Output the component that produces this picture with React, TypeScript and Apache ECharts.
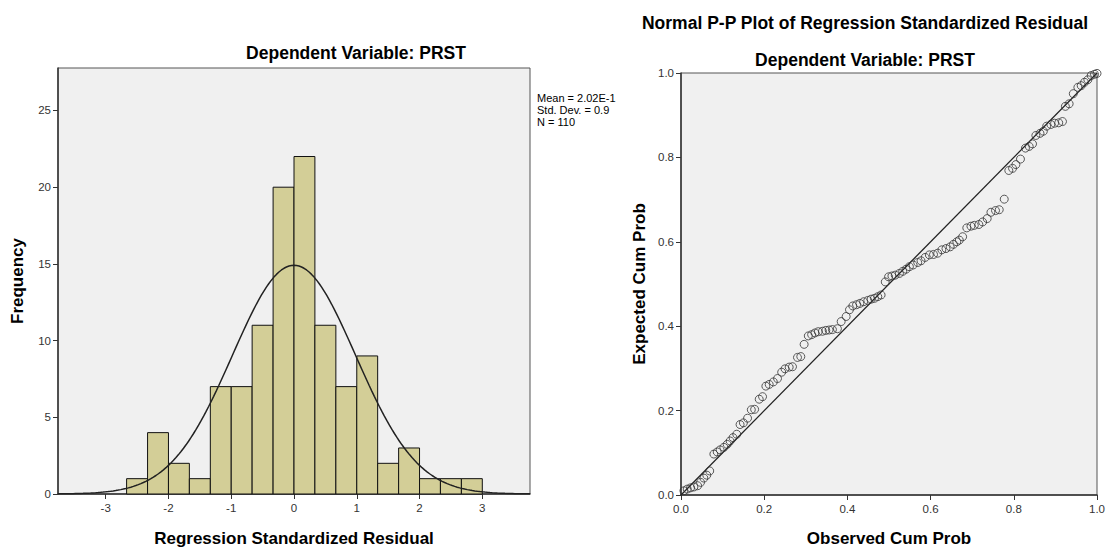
import React, { useEffect, useRef } from "react";
import * as echarts from "echarts";

// Histogram data
const binEdges = [-2.667, -2.333, -2, -1.667, -1.333, -1, -0.667, -0.333, 0, 0.333, 0.667, 1, 1.333, 1.667, 2, 2.333, 2.667, 3];
const binCounts = [1, 4, 2, 1, 7, 7, 11, 20, 22, 11, 7, 9, 2, 3, 1, 1, 1];
const histXTicks = [-3, -2, -1, 0, 1, 2, 3];
const histYTicks = [0, 5, 10, 15, 20, 25];

// Normal curve parameters (as shown in the chart's legend)
const MEAN = 2.02e-15;
const STD_DEV = 0.981;
const N = 110;
const BIN_WIDTH = 1 / 3;

const legendLines = ["Mean = 2.02E-1", "Std. Dev. = 0.9", "N = 110"];

// P-P plot points: [observed cum prob, expected cum prob]
const observedCumProb = [
  0.007, 0.015, 0.023, 0.031, 0.040, 0.047, 0.055, 0.062, 0.069, 0.079,
  0.087, 0.094, 0.103, 0.111, 0.118, 0.125, 0.134, 0.142, 0.150, 0.160,
  0.169, 0.177, 0.188, 0.196, 0.204, 0.212, 0.222, 0.232, 0.242, 0.250,
  0.260, 0.268, 0.280, 0.288, 0.296, 0.306, 0.314, 0.322, 0.330, 0.340,
  0.348, 0.356, 0.364, 0.376, 0.385, 0.397, 0.405, 0.413, 0.422, 0.430,
  0.439, 0.449, 0.457, 0.465, 0.473, 0.481, 0.491, 0.499, 0.507, 0.515,
  0.525, 0.533, 0.541, 0.549, 0.558, 0.569, 0.577, 0.587, 0.597, 0.607,
  0.617, 0.627, 0.637, 0.647, 0.655, 0.663, 0.669, 0.677, 0.687, 0.697,
  0.705, 0.716, 0.725, 0.736, 0.745, 0.756, 0.765, 0.777, 0.788, 0.797,
  0.805, 0.816, 0.828, 0.837, 0.845, 0.853, 0.863, 0.871, 0.879, 0.889,
  0.898, 0.908, 0.917, 0.924, 0.933, 0.943, 0.954, 0.962, 0.970, 0.978,
  0.986, 0.994, 1.0,
];
const expectedCumProb = [
  0.010, 0.014, 0.017, 0.019, 0.022, 0.030, 0.040, 0.047, 0.057, 0.097,
  0.102, 0.107, 0.113, 0.120, 0.128, 0.136, 0.144, 0.167, 0.171, 0.182,
  0.202, 0.203, 0.227, 0.233, 0.258, 0.262, 0.268, 0.276, 0.291, 0.299,
  0.303, 0.304, 0.326, 0.328, 0.357, 0.377, 0.380, 0.384, 0.387, 0.388,
  0.390, 0.391, 0.392, 0.394, 0.411, 0.423, 0.439, 0.448, 0.451, 0.454,
  0.458, 0.461, 0.464, 0.466, 0.470, 0.474, 0.505, 0.517, 0.519, 0.521,
  0.525, 0.530, 0.535, 0.541, 0.545, 0.551, 0.555, 0.563, 0.569, 0.570,
  0.573, 0.581, 0.584, 0.588, 0.594, 0.600, 0.604, 0.612, 0.633, 0.637,
  0.639, 0.641, 0.647, 0.655, 0.670, 0.674, 0.676, 0.701, 0.769, 0.774,
  0.783, 0.796, 0.822, 0.826, 0.832, 0.852, 0.857, 0.862, 0.874, 0.878,
  0.881, 0.882, 0.885, 0.921, 0.927, 0.951, 0.966, 0.970, 0.978, 0.984,
  0.994, 0.997, 0.999,
];

const FONT = 'Arial, "Liberation Sans", sans-serif';

function normalCurve(): number[][] {
  const pts: number[][] = [];
  for (let x = -3.76; x <= 3.761; x += 0.04) {
    const z = (x - MEAN) / STD_DEV;
    const y = (N * BIN_WIDTH) / (STD_DEV * Math.sqrt(2 * Math.PI)) * Math.exp(-0.5 * z * z);
    pts.push([x, y]);
  }
  return pts;
}

export default function App() {
  const ref = useRef<HTMLDivElement>(null);

  useEffect(() => {
    if (!ref.current) return;
    const chart = echarts.init(ref.current, null, { renderer: "svg" });

    const histData = binCounts.map((c, i) => [binEdges[i], binEdges[i + 1], c]);
    const ppData = observedCumProb.map((x, i) => [x, expectedCumProb[i]]);

    const tickLabel = { color: "#333", fontSize: 11.5, fontFamily: FONT };
    const axisNameStyle = { color: "#000", fontSize: 17, fontWeight: "bold" as const, fontFamily: FONT };

    chart.setOption({
      animation: false,
      backgroundColor: "#fff",
      title: [
        {
          text: "Dependent Variable: PRST",
          left: 351, top: 39, textAlign: "center",
          textStyle: { fontSize: 17.5, fontWeight: "bold", fontFamily: FONT, color: "#000" },
        },
        {
          text: "Normal P-P Plot of Regression Standardized Residual",
          left: 860, top: 9, textAlign: "center",
          textStyle: { fontSize: 17.5, fontWeight: "bold", fontFamily: FONT, color: "#000" },
        },
        {
          text: "Dependent Variable: PRST",
          left: 860, top: 46, textAlign: "center",
          textStyle: { fontSize: 17.5, fontWeight: "bold", fontFamily: FONT, color: "#000" },
        },
      ],
      graphic: legendLines.map((t, i) => ({
        type: "text",
        left: 537,
        top: 92 + i * 12,
        style: { text: t, fill: "#000", fontSize: 11, fontFamily: FONT },
      })),
      grid: [
        {
          left: 58, top: 68, width: 472, height: 430,
          show: true, backgroundColor: "#f0f0f0", borderColor: "#555", borderWidth: 1,
        },
        {
          left: 681, top: 73, width: 417, height: 426,
          show: true, backgroundColor: "#f0f0f0", borderColor: "#555", borderWidth: 1,
        },
      ],
      xAxis: [
        {
          gridIndex: 0, type: "value", min: -3.76, max: 3.76,
          splitLine: { show: false },
          axisLine: { show: true, onZero: false, lineStyle: { color: "#333", width: 1.5 } },
          axisTick: { show: true, length: 5, customValues: histXTicks, lineStyle: { color: "#333" } },
          axisLabel: { ...tickLabel, customValues: histXTicks, margin: 8 },
          name: "Regression Standardized Residual",
          nameLocation: "middle", nameGap: 36, nameTextStyle: axisNameStyle,
        },
        {
          gridIndex: 1, type: "value", min: 0, max: 1, interval: 0.2,
          splitLine: { show: false },
          axisLine: { show: true, onZero: false, lineStyle: { color: "#333", width: 1.5 } },
          axisTick: { show: true, length: 5, lineStyle: { color: "#333" } },
          axisLabel: { ...tickLabel, margin: 8, formatter: (v: number) => v.toFixed(1) },
          name: "Observed Cum Prob",
          nameLocation: "middle", nameGap: 35, nameTextStyle: axisNameStyle,
        },
      ],
      yAxis: [
        {
          gridIndex: 0, type: "value", min: 0, max: 27.77,
          splitLine: { show: false },
          axisLine: { show: true, onZero: false, lineStyle: { color: "#333", width: 1.5 } },
          axisTick: { show: true, length: 5, customValues: histYTicks, lineStyle: { color: "#333" } },
          axisLabel: { ...tickLabel, customValues: histYTicks, margin: 7 },
          name: "Frequency",
          nameLocation: "middle", nameGap: 32, nameTextStyle: axisNameStyle,
        },
        {
          gridIndex: 1, type: "value", min: 0, max: 1, interval: 0.2,
          splitLine: { show: false },
          axisLine: { show: true, onZero: false, lineStyle: { color: "#333", width: 1.5 } },
          axisTick: { show: true, length: 5, lineStyle: { color: "#333" } },
          axisLabel: { ...tickLabel, margin: 7, formatter: (v: number) => v.toFixed(1) },
          name: "Expected Cum Prob",
          nameLocation: "middle", nameGap: 33, nameTextStyle: axisNameStyle,
        },
      ],
      series: [
        {
          type: "custom",
          xAxisIndex: 0, yAxisIndex: 0,
          data: histData,
          encode: { x: [0, 1], y: 2 },
          renderItem: (params: any, api: any) => {
            const p0 = api.coord([api.value(0), api.value(2)]);
            const p1 = api.coord([api.value(1), 0]);
            return {
              type: "rect",
              shape: { x: p0[0], y: p0[1], width: p1[0] - p0[0], height: p1[1] - p0[1] },
              style: { fill: "#d3ce97", stroke: "#111", lineWidth: 1 },
            };
          },
          z: 2,
        },
        {
          type: "line",
          xAxisIndex: 0, yAxisIndex: 0,
          data: normalCurve(),
          showSymbol: false, symbol: "none",
          lineStyle: { color: "#222", width: 1.5 },
          z: 3,
        },
        {
          type: "line",
          xAxisIndex: 1, yAxisIndex: 1,
          data: [[0, 0], [1, 1]],
          showSymbol: false, symbol: "none",
          lineStyle: { color: "#222", width: 1.3 },
          z: 2,
        },
        {
          type: "scatter",
          xAxisIndex: 1, yAxisIndex: 1,
          data: ppData,
          symbol: "circle",
          symbolSize: 8,
          itemStyle: { color: "rgba(0,0,0,0)", borderColor: "#333", borderWidth: 1 },
          z: 3,
        },
      ],
    });

    return () => chart.dispose();
  }, []);

  return (
    <div
      ref={ref}
      style={{ position: "fixed", left: 0, top: 0, width: 1108, height: 552 }}
    />
  );
}
